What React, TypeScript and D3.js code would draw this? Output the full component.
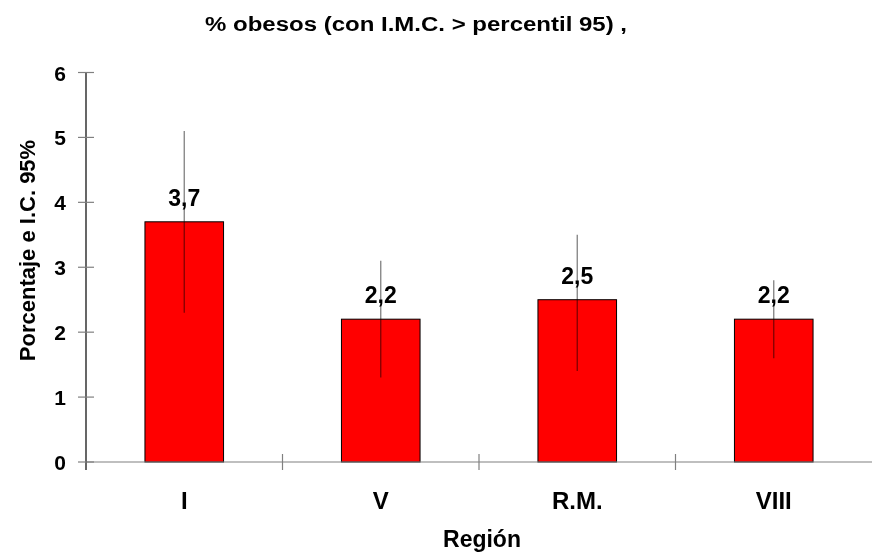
import React from "react";
import * as d3 from "d3";

const categories = ["I", "V", "R.M.", "VIII"];
const values = [3.7, 2.2, 2.5, 2.2];
const ciLow = [2.3, 1.3, 1.4, 1.6];
const ciHigh = [5.1, 3.1, 3.5, 2.8];
const valueLabels = ["3,7", "2,2", "2,5", "2,2"];
const yTicks = [0, 1, 2, 3, 4, 5, 6];

const title = "% obesos (con I.M.C. > percentil 95) ,";
const xTitle = "Región";
const yTitle = "Porcentaje e I.C. 95%";

const W = 872;
const H = 554;
const FONT = "'Liberation Sans', Arial, Helvetica, sans-serif";

export default function App() {
  const x0 = 86;
  const x1 = 872;
  const y = d3.scaleLinear().domain([0, 6]).range([462, 72.5]);
  const x = d3.scaleBand<string>().domain(categories).range([x0, x1]).paddingInner(0).paddingOuter(0);
  const bw = x.bandwidth() * 0.4;
  const boundaries = categories.slice(1).map((c) => x(c) as number);

  return (
    <svg width={W} height={H} style={{ position: "absolute", left: 0, top: 0, background: "#fff" }} fontFamily={FONT}>
      <rect x={0} y={0} width={W} height={H} fill="#fff" />
      <text x={416} y={31} textAnchor="middle" fontSize={20} fontWeight="bold" textLength={422} lengthAdjust="spacingAndGlyphs">
        {title}
      </text>

      {/* bars */}
      {categories.map((c, i) => {
        const cx = (x(c) as number) + x.bandwidth() / 2;
        return (
          <g key={c}>
            <rect
              x={cx - bw / 2}
              y={y(values[i])}
              width={bw}
              height={y(0) - y(values[i])}
              fill="#ff0000"
              stroke="#000"
              strokeWidth={1}
            />
          </g>
        );
      })}

      {/* x axis */}
      <line x1={x0} x2={x1} y1={y(0)} y2={y(0)} stroke="#808080" strokeWidth={1.2} />
      {boundaries.map((b, i) => (
        <line key={i} x1={b} x2={b} y1={y(0) - 8} y2={y(0) + 8} stroke="#808080" strokeWidth={1.2} />
      ))}

      {/* y axis */}
      <line x1={x0} x2={x0} y1={y(6)} y2={y(0) + 8} stroke="#000" strokeWidth={1.2} />
      {yTicks.map((t) => (
        <g key={t}>
          <line x1={x0 - 8} x2={x0 + 8} y1={y(t)} y2={y(t)} stroke="#808080" strokeWidth={1.2} />
          <text x={66} y={y(t) + 8} textAnchor="end" fontSize={21} fontWeight="bold">
            {t}
          </text>
        </g>
      ))}

      {/* error bars */}
      {categories.map((c, i) => {
        const cx = (x(c) as number) + x.bandwidth() / 2;
        return (
          <line
            key={c}
            x1={cx}
            x2={cx}
            y1={y(ciHigh[i])}
            y2={y(ciLow[i])}
            stroke="#808080"
            strokeWidth={1.3}
            style={{ mixBlendMode: "multiply" }}
          />
        );
      })}

      {/* value labels */}
      {categories.map((c, i) => {
        const cx = (x(c) as number) + x.bandwidth() / 2;
        return (
          <text key={c} x={cx} y={y(values[i]) - 16} textAnchor="middle" fontSize={23} fontWeight="bold">
            {valueLabels[i]}
          </text>
        );
      })}

      {/* x labels */}
      {categories.map((c) => (
        <text
          key={c}
          x={(x(c) as number) + x.bandwidth() / 2}
          y={508.5}
          textAnchor="middle"
          fontSize={24}
          fontWeight="bold"
        >
          {c}
        </text>
      ))}

      <text x={482} y={547} textAnchor="middle" fontSize={23} fontWeight="bold">
        {xTitle}
      </text>

      <text
        transform={`translate(35, 250.5) rotate(-90)`}
        textAnchor="middle"
        fontSize={22}
        fontWeight="bold"
      >
        {yTitle}
      </text>
    </svg>
  );
}
